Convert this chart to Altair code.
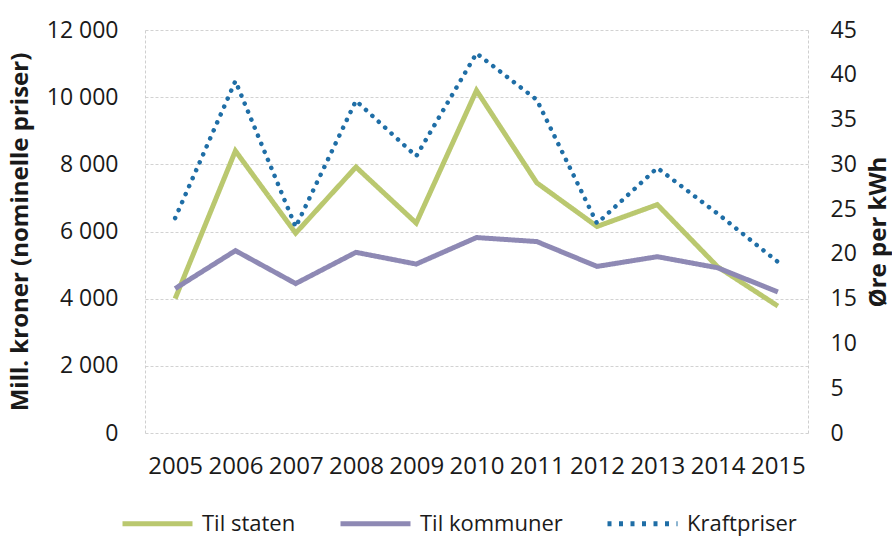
import altair as alt
import pandas as pd

years = [str(y) for y in range(2005, 2016)]
til_staten = [4000, 8400, 5950, 7920, 6250, 10200, 7450, 6150, 6800, 4950, 3780]
til_kommuner = [4300, 5430, 4450, 5380, 5030, 5820, 5700, 4960, 5250, 4920, 4200]
kraftpriser = [24.0, 39.3, 23.0, 37.1, 30.9, 42.4, 37.2, 23.4, 29.6, 24.5, 19.1]

series_names = ["Til staten", "Til kommuner", "Kraftpriser"]
colors = ["#bac86f", "#8e89b4", "#1f6ea6"]
left_ticks = [0, 2000, 4000, 6000, 8000, 10000, 12000]
right_ticks = [0, 5, 10, 15, 20, 25, 30, 35, 40, 45]

df_left = pd.DataFrame({
    "year": years + years,
    "series": [series_names[0]] * len(years) + [series_names[1]] * len(years),
    "value": til_staten + til_kommuner,
})
df_right = pd.DataFrame({
    "year": years,
    "series": [series_names[2]] * len(years),
    "value": kraftpriser,
})

FONT = "Open Sans"
TEXT = "#1a1a1a"

legend = alt.Legend(
    title=None, orient="none", legendX=-25, legendY=456,
    direction="horizontal", padding=0,
    symbolType="stroke", symbolSize=4900, symbolStrokeWidth=5,
    labelFontSize=22, labelColor=TEXT, columnPadding=34,
    labelOffset=7,
)

x_enc = alt.X(
    "year:O", title=None, sort=years,
    scale=alt.Scale(padding=0.5),
    axis=alt.Axis(labelAngle=0, labelFontSize=24, labelPadding=21,
                  ticks=False, domain=False, labelColor=TEXT),
)

color_enc = alt.Color(
    "series:N", sort=series_names,
    scale=alt.Scale(domain=series_names, range=colors),
    legend=legend,
)
dash_enc = alt.StrokeDash(
    "series:N", sort=series_names,
    scale=alt.Scale(domain=series_names, range=[[1, 0], [1, 0], [4, 7.5]]),
    legend=legend,
)

left = alt.Chart(df_left).mark_line(strokeWidth=5).encode(
    x=x_enc,
    y=alt.Y(
        "value:Q",
        scale=alt.Scale(domain=[0, 12000]),
        axis=alt.Axis(
            values=left_ticks,
            labelExpr="replace(format(datum.value, ','), ',', ' ')",
            title="Mill. kroner (nominelle priser)",
            titleFontSize=24, titleFontWeight="bold", titleColor=TEXT,
            titlePadding=14,
            labelFontSize=23, labelColor=TEXT, labelPadding=27,
            ticks=False, domainColor="#cfcfcf", domainDash=[3, 2],
            grid=True, gridColor="#d2d2d2", gridDash=[3, 2],
        ),
    ),
    color=color_enc,
    strokeDash=dash_enc,
    order=alt.Order("year:O"),
)

right = alt.Chart(df_right).mark_line(
    strokeWidth=4.5, strokeCap="round", strokeDash=[0.1, 8.6]
).encode(
    x=x_enc,
    y=alt.Y(
        "value:Q",
        scale=alt.Scale(domain=[0, 45]),
        axis=alt.Axis(
            orient="right", values=right_ticks,
            title="Øre per kWh", titleAngle=270, titleBaseline="top",
            titleFontSize=24, titleFontWeight="bold", titleColor=TEXT,
            titlePadding=10,
            labelFontSize=23, labelColor=TEXT, labelPadding=22,
            ticks=False, domainColor="#cfcfcf", domainDash=[3, 2],
            grid=False,
        ),
    ),
    color=color_enc,
)

chart = alt.layer(left, right).resolve_scale(y="independent").properties(
    width=663, height=403,
    autosize=alt.AutoSizeParams(type="none"),
    padding={"left": 145, "top": 30, "right": 84, "bottom": 103},
).configure(font=FONT).configure_view(stroke=None)

chart.save("out.html", embed_options={"renderer": "svg", "actions": False})
